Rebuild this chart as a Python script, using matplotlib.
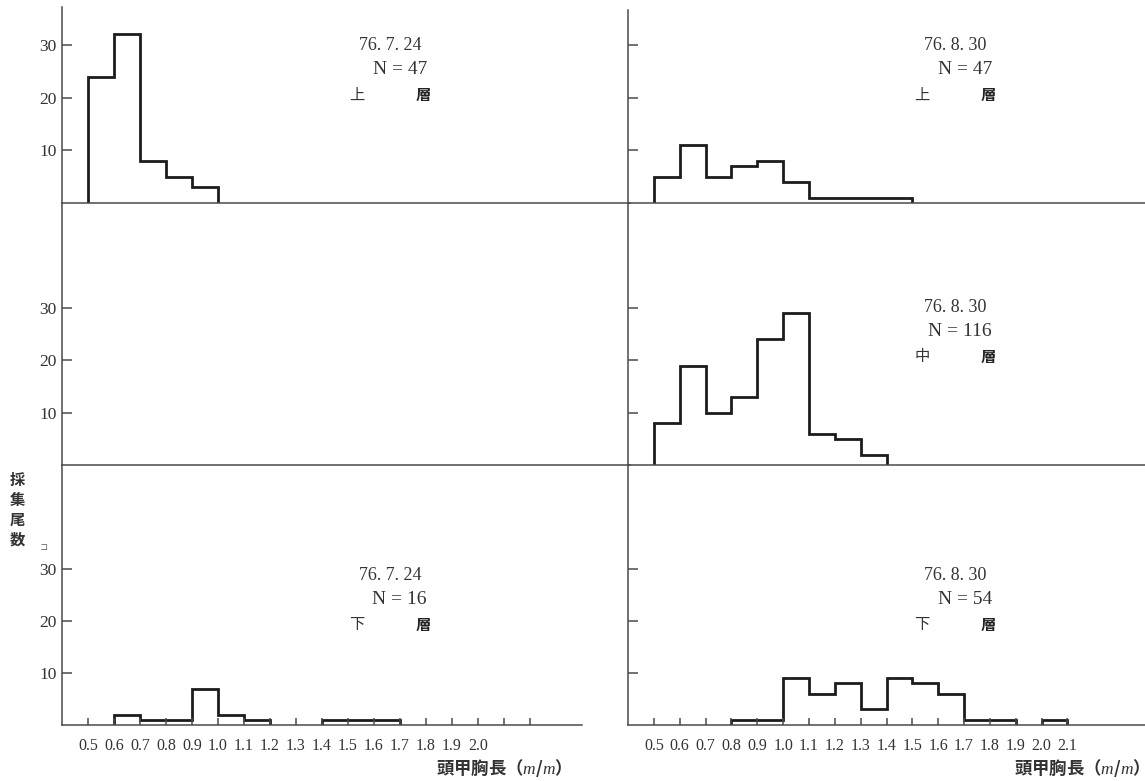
import numpy as np
import matplotlib.pyplot as plt

plt.rcParams['font.family'] = ['Liberation Serif', 'Noto Sans CJK JP']
plt.rcParams['mathtext.fontset'] = 'custom'
plt.rcParams['mathtext.it'] = 'Liberation Serif:italic'

W, H = 1145, 781
INK = '#1c1c1c'
AXC = '#4a4a4a'

# counts per 0.1 mm carapace-length class, first class lower bound given
tl_start, tl_counts = 0.5, [24, 32, 8, 5, 3]                         # 76.7.24 上層
tr_start, tr_counts = 0.5, [5, 11, 5, 7, 8, 4, 1, 1, 1, 1]            # 76.8.30 上層
mr_start, mr_counts = 0.5, [8, 19, 10, 13, 24, 29, 6, 5, 2]           # 76.8.30 中層
bl_start, bl_counts = 0.6, [2, 1, 1, 7, 2, 1, 0, 0, 1, 1, 1]          # 76.7.24 下層
br_start, br_counts = 0.8, [1, 1, 9, 6, 8, 3, 9, 8, 6, 1, 1, 0, 1]    # 76.8.30 下層

y_ticks = [10, 20, 30]
y_labels = ['10', '20', '30']
left_xticks = [0.5, 0.6, 0.7, 0.8, 0.9, 1.0, 1.1, 1.2, 1.3, 1.4, 1.5,
               1.6, 1.7, 1.8, 1.9, 2.0, 2.1, 2.2]
left_xlabels = ['0.5', '0.6', '0.7', '0.8', '0.9', '1.0', '1.1', '1.2', '1.3',
                '1.4', '1.5', '1.6', '1.7', '1.8', '1.9', '2.0', '', '']
right_xticks = [0.5, 0.6, 0.7, 0.8, 0.9, 1.0, 1.1, 1.2, 1.3, 1.4, 1.5,
                1.6, 1.7, 1.8, 1.9, 2.0, 2.1]
right_xlabels = ['0.5', '0.6', '0.7', '0.8', '0.9', '1.0', '1.1', '1.2', '1.3',
                 '1.4', '1.5', '1.6', '1.7', '1.8', '1.9', '2.0', '2.1']

fig = plt.figure(figsize=(W / 100, H / 100), dpi=100)


def panel(x0, x1, ytop, ybase, px_per_unit, px_per_class, right=False):
    ax = fig.add_axes([x0 / W, 1 - ybase / H, (x1 - x0) / W, (ybase - ytop) / H])
    ax.set_xlim(0.4, 0.4 + (x1 - x0) / px_per_class * 0.1)
    ax.set_ylim(0, (ybase - ytop) / px_per_unit)
    for s in ('top', 'right'):
        ax.spines[s].set_visible(False)
    for s in ('left', 'bottom'):
        ax.spines[s].set_color(AXC)
        ax.spines[s].set_linewidth(1.1)
    ax.set_yticks(y_ticks)
    ax.set_yticklabels([] if right else y_labels)
    ax.tick_params(axis='y', direction='in', length=7, width=1.1, color=AXC,
                   labelsize=12.5, labelcolor='#333333', pad=4)
    ax.set_xticks([])
    ax.patch.set_alpha(0)
    return ax


def hist(ax, start, counts):
    # draw each run of non-empty classes as its own outline
    counts = np.asarray(counts, dtype=float)
    edges = np.round(start + 0.1 * np.arange(len(counts) + 1), 2)
    i = 0
    while i < len(counts):
        if counts[i] == 0:
            i += 1
            continue
        j = i
        while j < len(counts) and counts[j] > 0:
            j += 1
        ax.stairs(counts[i:j], edges[i:j + 1], baseline=0, color=INK,
                  linewidth=2.0, joinstyle='miter')
        i = j


def ftext(x, y, s, **kw):
    fig.text(x / W, 1 - y / H, s, **kw)


# left column
ax_tl = panel(62, 630, 7, 203, 5.27, 26)
ax_ml = panel(62, 630, 203, 465, 5.23, 26)
ax_bl = panel(62, 582, 465, 725, 5.2, 26)
# right column
ax_tr = panel(628, 1145, 10, 203, 5.27, 25.85, right=True)
ax_mr = panel(628, 1145, 203, 465, 5.23, 25.85, right=True)
ax_br = panel(628, 1145, 465, 725, 5.2, 25.85, right=True)

hist(ax_tl, tl_start, tl_counts)
hist(ax_tr, tr_start, tr_counts)
hist(ax_mr, mr_start, mr_counts)
hist(ax_bl, bl_start, bl_counts)
hist(ax_br, br_start, br_counts)

for ax, ticks, labels in ((ax_bl, left_xticks, left_xlabels),
                          (ax_br, right_xticks, right_xlabels)):
    ax.set_xticks(ticks)
    ax.set_xticklabels(labels)
    ax.tick_params(axis='x', direction='in', length=5, width=1.1, color=AXC,
                   labelsize=11.5, labelcolor='#333333', pad=9)

# sample captions
captions = [
    (390, 45, '76. 7. 24', 'N = 47', '上', '層'),
    (955, 45, '76. 8. 30', 'N = 47', '上', '層'),
    (955, 307, '76. 8. 30', 'N = 116', '中', '層'),
    (390, 575, '76. 7. 24', 'N = 16', '下', '層'),
    (955, 575, '76. 8. 30', 'N = 54', '下', '層'),
]
for cx, cy, date, n, layer, so in captions:
    ftext(cx, cy, date, ha='center', va='center', fontsize=13, color='#333333')
    ftext(cx + 37, cy + 25, n, ha='right', va='center', fontsize=14, color='#333333')
    ftext(cx - 33, cy + 50, layer, ha='center', va='center', fontsize=11,
          color='#333333', family=['Noto Sans CJK JP'])
    ftext(cx + 33, cy + 50, so, ha='center', va='center', fontsize=11,
          color='#222222', family=['Noto Sans CJK JP'], fontweight='bold')

# axis titles
for xr in (562, 1140):
    ftext(xr, 768, '頭甲胸長（$m$/$m$）', ha='right', va='center', fontsize=12.5,
          color='#333333', family=['Noto Sans CJK JP', 'DejaVu Sans'],
          fontweight='bold')

ftext(17, 510, '採\n集\n尾\n数', ha='center', va='center', fontsize=11,
      color='#333333', family=['Noto Sans CJK JP'], fontweight='bold',
      linespacing=1.3)
ftext(44, 547, 'コ', ha='center', va='center', fontsize=6, color='#555555',
      family=['Noto Sans CJK JP'])

fig.savefig('out.png', dpi=100)
